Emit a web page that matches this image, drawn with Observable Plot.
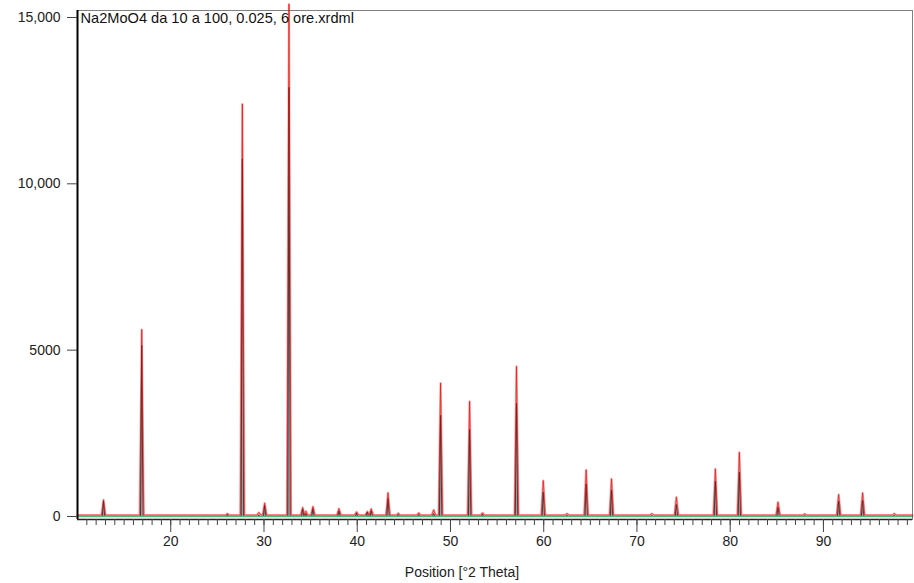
<!DOCTYPE html>
<html><head><meta charset="utf-8">
<script src="https://cdn.jsdelivr.net/npm/d3@7"></script>
<script src="https://cdn.jsdelivr.net/npm/@observablehq/plot@0.6"></script>
<style>body{margin:0;background:#fff}</style>
</head><body><div id="chart"></div>
<script>
const title = "Na2MoO4 da 10 a 100, 0.025, 6 ore.xrdml";
const xLabel = "Position [°2 Theta]";
const xMajorTicks = [20, 30, 40, 50, 60, 70, 80, 90];
const yTickValues = [0, 5000, 10000, 15000];
const yTickLabels = ["0", "5000", "10,000", "15,000"];

// peak positions (°2θ), observed (red) and calculated (grey) intensities (counts)
const peakPos  = [12.79, 16.89, 26.08, 27.68, 29.45, 30.07, 32.68, 34.15, 34.5, 35.25, 38.04, 39.93, 41.08, 41.5, 43.3, 44.4, 46.6, 48.2, 48.94, 52.05, 53.44, 57.08, 59.95, 62.5, 64.55, 67.27, 71.6, 74.23, 78.41, 80.98, 85.13, 88.0, 91.63, 94.2, 97.6];
const peakObs  = [500, 5620, 90, 12400, 120, 400, 15400, 270, 160, 300, 240, 140, 150, 230, 710, 100, 110, 200, 4010, 3460, 110, 4510, 1080, 90, 1400, 1130, 90, 580, 1430, 1930, 430, 80, 660, 710, 90];
const peakCalc = [460, 5140, 60, 10750, 50, 330, 12900, 220, 90, 240, 170, 100, 130, 170, 540, 60, 60, 90, 3040, 2620, 70, 3400, 730, 40, 980, 800, 30, 360, 1060, 1330, 280, 30, 460, 480, 40];
const obsBackground = 40;
const calcBackground = 0;
const greenBackground = 0;

const xDomain = [10, 99.55];

function profile(heights, bg, halfBase) {
  const pts = [{x: xDomain[0], y: bg}];
  peakPos.forEach((p, i) => {
    pts.push({x: p - halfBase, y: bg}, {x: p, y: heights[i]}, {x: p + halfBase, y: bg});
  });
  pts.push({x: xDomain[1], y: bg});
  return pts;
}
const obsTable = profile(peakObs, obsBackground, 0.22);
const calcTable = profile(peakCalc, calcBackground, 0.13);
const xMinorTicks = d3.range(11, 100);

const chart = Plot.plot({
  width: 914,
  height: 583,
  marginLeft: 77,
  marginRight: 2,
  marginTop: 10,
  marginBottom: 64,
  style: {fontFamily: "'Liberation Sans', Arial, sans-serif", fontSize: "14px", color: "#222", background: "#fff"},
  x: {domain: xDomain},
  y: {domain: [-90, 15210]},
  marks: [
    Plot.frame({stroke: "#808080", strokeWidth: 1}),
    Plot.line(obsTable, {x: "x", y: "y", stroke: "#ff2a2a", strokeWidth: 2.2, strokeOpacity: 0.45}),
    Plot.areaY(calcTable, {x: "x", y1: calcBackground, y2: "y", fill: "#9c9c9c"}),
    Plot.line(calcTable, {x: "x", y: "y", stroke: "#333", strokeWidth: 0.9}),
    Plot.line(obsTable, {x: "x", y: "y", stroke: "#e00000", strokeWidth: 0.8, strokeOpacity: 0.7}),
    Plot.ruleY([greenBackground], {stroke: "#4cbb7a", strokeWidth: 1.5}),
    Plot.ruleX([xDomain[0]], {stroke: "#000", strokeWidth: 2}),
    Plot.ruleY([-90], {stroke: "#222", strokeWidth: 1.5}),
    Plot.axisX({ticks: xMinorTicks, tickSize: 6, tickFormat: () => "", label: null, stroke: "#444"}),
    Plot.axisX({ticks: xMajorTicks, tickSize: 13, tickPadding: 4, tickFormat: d => String(d), label: null, stroke: "#444", fontSize: 14}),
    Plot.axisY({ticks: yTickValues, tickSize: 10, tickPadding: 7, tickFormat: d => yTickLabels[yTickValues.indexOf(d)], label: null, stroke: "#444", fontSize: 14}),
    Plot.text([title], {frameAnchor: "top-left", dx: 3, dy: 8, textAnchor: "start", lineAnchor: "middle", fontSize: 14.6, fill: "#111"}),
    Plot.text([xLabel], {frameAnchor: "bottom-left", dx: 384.5, dy: 53, textAnchor: "middle", lineAnchor: "middle", fontSize: 14, fill: "#222"})
  ]
});
document.getElementById("chart").appendChild(chart);
</script>
</body></html>
